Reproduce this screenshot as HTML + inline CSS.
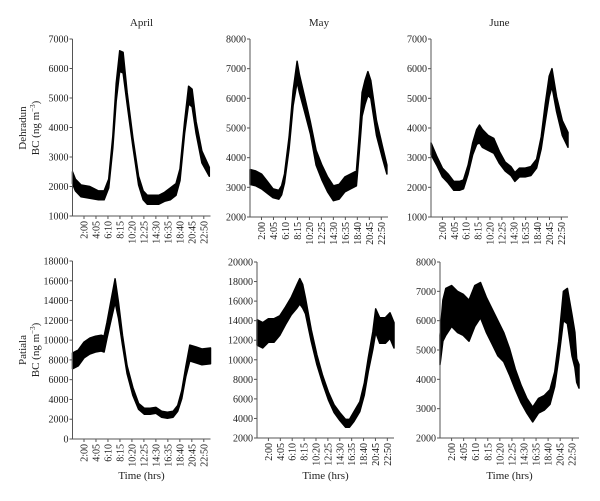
<!DOCTYPE html>
<html><head><meta charset="utf-8"><style>
body{margin:0;background:#fff;}
svg{display:block;font-family:"Liberation Serif",serif;}
</style></head><body>
<svg id="chart" width="600" height="501" viewBox="0 0 600 501"></svg>
<script>
// Shared tick labels
const xTickLabels = ["2:00","4:05","6:10","8:15","10:20","12:25","14:30","16:35","18:40","20:45","22:50"];
const xTickHours = [2,4.083,6.167,8.25,10.333,12.417,14.5,16.583,18.667,20.75,22.833];
const months = ["April","May","June"];
// Y tick labels per panel
const ticksDA = [1000,2000,3000,4000,5000,6000,7000];
const ticksDM = [2000,3000,4000,5000,6000,7000,8000];
const ticksDJ = [1000,2000,3000,4000,5000,6000,7000];
const ticksPA = [0,2000,4000,6000,8000,10000,12000,14000,16000,18000];
const ticksPM = [2000,4000,6000,8000,10000,12000,14000,16000,18000,20000];
const ticksPJ = [2000,3000,4000,5000,6000,7000,8000];
// Series (hours, mean, error)
const tDA = [0,0.5,1.5,3,4.5,5.5,6.3,7,7.6,8.2,8.8,9.5,10.5,11.5,12.3,13,15,16,17,18,18.7,19.5,20.2,20.8,21.5,22.5,23.8];
const vDA = [2300,2050,1850,1800,1700,1700,2100,3500,5200,6250,6200,5000,3500,2200,1700,1550,1550,1650,1750,1900,2400,4000,5100,5000,4000,3000,2500];
const eDA = [200,200,200,200,150,150,150,200,300,350,350,200,150,150,150,150,150,150,200,200,200,200,300,300,200,200,150];
const tDM = [0,1,2,3,4,5,5.5,6,6.8,7.5,8.2,8.6,9.5,10.5,11.5,12.5,13.5,14.5,15.5,16.5,17.5,18.5,19,19.5,20,20.5,21,22,23,23.8];
const vDM = [3350,3300,3200,3000,2800,2750,2900,3300,4500,6000,6900,6500,5800,5000,4000,3500,3100,2800,2850,3100,3200,3300,4500,5800,6200,6500,6300,5000,4200,3600];
const eDM = [250,250,250,200,150,150,150,150,200,250,350,300,250,200,250,250,250,250,250,250,250,250,300,400,400,400,300,250,200,150];
const tDJ = [0,1,2,3,4,5,5.7,6.5,7.3,8,8.5,9,10,11,12,13,14,14.7,15.5,16.5,17.5,18.5,19.3,20,20.7,21.2,22,23,24];
const vDJ = [3300,2900,2500,2300,2050,2050,2100,2600,3300,3700,3800,3650,3500,3400,3000,2700,2550,2350,2500,2500,2550,2800,3500,4500,5400,5700,4800,4000,3600];
const eDJ = [200,150,150,150,150,150,150,150,200,250,300,300,250,250,200,150,150,150,150,150,150,150,200,300,350,300,250,250,250];
const tPA = [0,1,2,3,4,5,5.5,6,6.7,7.4,8,8.7,9.5,10.5,11.5,12.5,13.5,14.5,15.5,16.5,17.5,18.3,19,19.7,20.4,21.5,22.5,24];
const vPA = [7900,8200,9000,9400,9600,9700,9600,11000,13000,15000,13000,10000,7000,4800,3300,2800,2800,2900,2500,2400,2500,3100,4500,6800,8700,8500,8300,8400];
const ePA = [800,800,800,800,800,800,800,800,1000,1200,800,500,400,400,300,300,300,300,300,300,300,300,400,500,800,800,800,800];
const tPM = [0,1,2,3,4,5,6,7,7.5,8,8.5,9.5,10.5,11.5,12.5,13.5,14.5,15.5,16.2,17,18,18.8,19.5,20.3,20.8,21.5,22.5,23.3,24];
const vPM = [12800,12500,13000,13000,13500,14500,15500,16500,17000,16500,15500,12500,10000,8000,6300,5000,4200,3500,3500,4200,5200,7000,9500,12000,14000,13000,13000,13500,12500];
const ePM = [1300,1300,1200,1200,1000,900,900,1200,1300,1200,800,600,500,400,400,400,400,400,400,500,500,600,700,900,1200,1300,1300,1300,1300];
const tPJ = [0,0.5,1,2,3,4,5,6,7,8,9,10,11,12,13,14,15,16,17,18,19,19.8,20.5,21.3,22,22.8,23.3,23.6,24];
const vPJ = [5000,6000,6300,6500,6300,6200,6000,6500,6700,6200,5800,5400,5100,4600,4000,3500,3100,2800,3100,3200,3400,4000,5000,6500,6500,5500,5000,4300,4100];
const ePJ = [500,700,800,700,700,700,700,700,600,600,600,600,500,450,350,300,250,250,250,250,250,250,300,500,600,700,600,400,400];

const panels = [
 {x0:72.5,x1:210.5,y0:39,y1:216,min:1000,max:7000,ticks:ticksDA,t:tDA,v:vDA,e:eDA,title:"April",name:"dehradun-april"},
 {x0:250,x1:388,y0:39,y1:217,min:2000,max:8000,ticks:ticksDM,t:tDM,v:vDM,e:eDM,title:"May",name:"dehradun-may"},
 {x0:431,x1:568,y0:39,y1:217,min:1000,max:7000,ticks:ticksDJ,t:tDJ,v:vDJ,e:eDJ,title:"June",name:"dehradun-june"},
 {x0:72.5,x1:210.5,y0:261,y1:439,min:0,max:18000,ticks:ticksPA,t:tPA,v:vPA,e:ePA,name:"patiala-april"},
 {x0:257,x1:394,y0:262,y1:438,min:2000,max:20000,ticks:ticksPM,t:tPM,v:vPM,e:ePM,name:"patiala-may"},
 {x0:440,x1:579,y0:262,y1:438,min:2000,max:8000,ticks:ticksPJ,t:tPJ,v:vPJ,e:ePJ,name:"patiala-june"}
];
const svg = document.getElementById('chart');
const NS = "http://www.w3.org/2000/svg";
function mk(tag, attrs, parent){const el=document.createElementNS(NS,tag);for(const k in attrs)el.setAttribute(k,attrs[k]);(parent||svg).appendChild(el);return el;}

panels.forEach(p=>{
  const g = mk('g',{});
  
  
  const xs = h=>p.x0 + (p.x1-p.x0)*h/24;
  const ys = v=>p.y1 - (p.y1-p.y0)*(v-p.min)/(p.max-p.min);
  // band
  let up=[],lo=[];
  p.t.forEach((h,i)=>{up.push(xs(h).toFixed(1)+','+ys(p.v[i]+p.e[i]).toFixed(1));lo.unshift(xs(h).toFixed(1)+','+ys(p.v[i]-p.e[i]).toFixed(1));});
  const band = mk('polygon',{points:up.concat(lo).join(' '),fill:'#000',stroke:'#000','stroke-width':1.5,'stroke-linejoin':'round'},g);
  
  
  // axes
  const ax = mk('path',{d:`M${p.x0},${p.y0}V${p.y1}H${p.x1}`,fill:'none',stroke:'#555','stroke-width':1},g);
  
  
  p.ticks.forEach(v=>{
    mk('line',{x1:p.x0-3,x2:p.x0,y1:ys(v),y2:ys(v),stroke:'#555'},g);
    const tx = mk('text',{x:p.x0-4,y:ys(v)+3.5,'text-anchor':'end','font-size':10,fill:'#222'},g);
    tx.textContent = v;
    
    
  });
  xTickHours.forEach((h,i)=>{
    const x = xs(h);
    mk('line',{x1:x,x2:x,y1:p.y1,y2:p.y1+3,stroke:'#555'},g);
    const tx = mk('text',{transform:`translate(${x+3.5},${p.y1+5}) rotate(-90)`,'text-anchor':'end','font-size':10,fill:'#222'},g);
    tx.textContent = xTickLabels[i];
    
    
  });
  if(p.title){
    const tt = mk('text',{x:(p.x0+p.x1)/2,y:26,'text-anchor':'middle','font-size':11,fill:'#222'},g);
    tt.textContent = p.title;
    
    
  } else {
    const xt = mk('text',{x:(p.x0+p.x1)/2,y:479,'text-anchor':'middle','font-size':11,fill:'#222'},g);
    xt.textContent = "Time (hrs)";
    
    
  }
});
// y axis titles
[["Dehradun",128,"dehradun-y-title"],["Patiala",350,"patiala-y-title"]].forEach(a=>{
  const t = mk('text',{transform:`translate(26,${a[1]}) rotate(-90)`,'text-anchor':'middle','font-size':11,fill:'#222'});
  
  
  const s1 = mk('tspan',{x:0,dy:0},t); s1.textContent=a[0];
  const s2 = mk('tspan',{x:0,dy:13},t); s2.textContent="BC (ng m";
  const s3 = mk('tspan',{dy:-4,'font-size':7},t); s3.textContent="−3";
  const s4 = mk('tspan',{dy:4},t); s4.textContent=")";
});
</script>
</body></html>
